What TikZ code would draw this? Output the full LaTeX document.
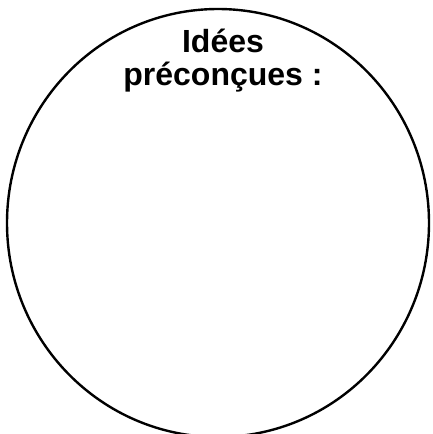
\documentclass[tikz,border=0pt]{standalone}
\usepackage{fontspec}
\setmainfont{Liberation Sans}
\usetikzlibrary{shapes.geometric}
\begin{document}
\begin{tikzpicture}[x=1pt,y=-1pt,
  ring/.style={draw=black,line width=2.4pt},
  title/.style={font=\bfseries\fontsize{32}{33}\selectfont,align=center,inner sep=0pt}]
\useasboundingbox (0,0) rectangle (432,434);
\begin{scope}
\clip (0,0) rectangle (432,434);
\node[ring,ellipse,minimum width=422pt,minimum height=428pt,inner sep=0pt] (circ) at (218,223) {};
\end{scope}
\node[title,anchor=base] (t) at (223,85) {Idées\\préconçues :};
\end{tikzpicture}
\end{document}
